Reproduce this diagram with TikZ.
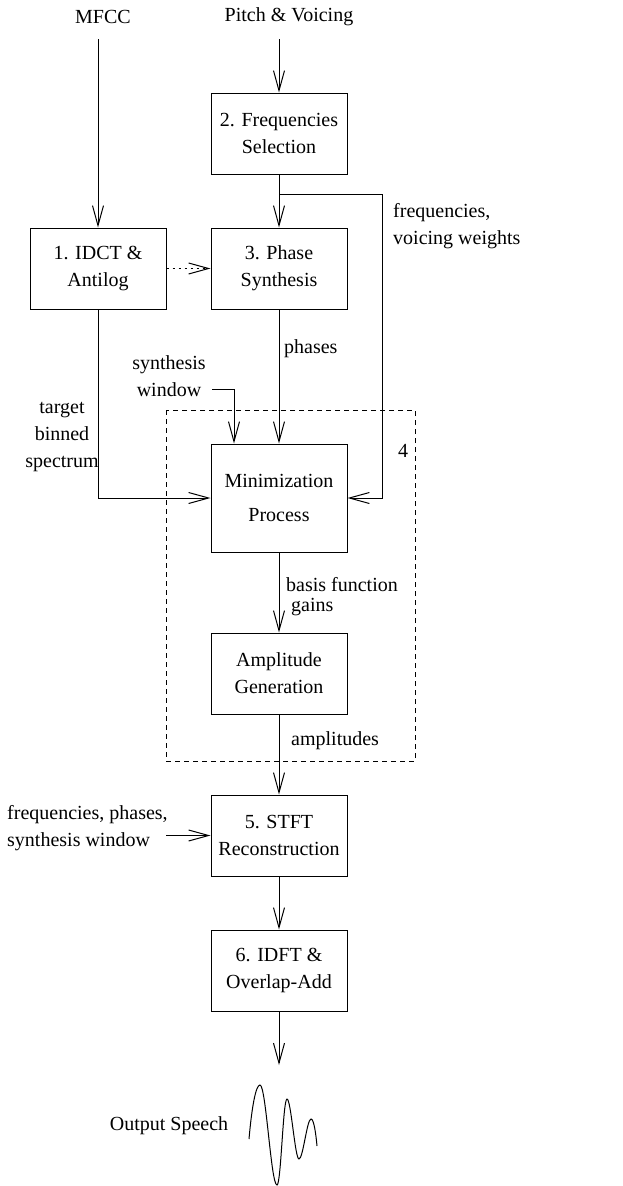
\documentclass[tikz,border=0pt]{standalone}
\usepackage{fontspec}
\setmainfont{Liberation Serif}
\usetikzlibrary{arrows.meta}
\begin{document}
\begin{tikzpicture}[x=1pt,y=-1pt,
  font=\fontsize{20}{27}\selectfont,
  box/.style={draw,line width=1pt,minimum width=136pt,minimum height=81pt,inner sep=0pt,align=center},
  arr/.style={line width=1pt,-{Straight Barb[length=20pt,width=11pt]}},
  lbl/.style={inner sep=0pt},
  dotarrow/.style={arr,dash pattern=on 2pt off 4pt},
  group/.style={line width=0.8pt,dash pattern=on 5pt off 4pt},
  wave/.style={line width=1pt}
]
\useasboundingbox (0,0) rectangle (623,1186);

% boxes
\node[box] (b1) at (98,268.5) {1. IDCT \&\\Antilog};
\node[box] (b2) at (279,133.5) {2. Frequencies\\Selection};
\node[box] (b3) at (279,268.5) {3. Phase\\Synthesis};
\node[box,minimum height=108pt] (b4) at (279,498) {Minimization\\[7pt]Process};
\node[box] (b5) at (279,673.5) {Amplitude\\Generation};
\node[box] (b6) at (279,835.5) {5. STFT\\Reconstruction};
\node[box] (b7) at (279,970.5) {6. IDFT \&\\Overlap-Add};

% inputs
\node[lbl] (mfcc) at (103,17) {MFCC};
\node[lbl] (pv) at (289,17) {Pitch \& Voicing};
\coordinate (m0) at (98,39);
\coordinate (p0) at (279,39);
\draw[arr] (m0) -- (b1);
\draw[arr] (p0) -- (b2);

% frequencies branch
\draw[arr] (b2) -- (b3);
\coordinate (br) at (279,194);
\coordinate (fr) at (382,194);
\draw[arr] (br) -- (fr) |- (b4.east);
\node[lbl,anchor=west,align=left] (fvw) at (393,226.5) {frequencies,\\voicing weights};

% dotted
\draw[dotarrow] (b1) -- (b3);

% target spectrum
\draw[arr] (b1) |- (b4.west);
\node[lbl,align=center] (tbs) at (62,437) {target\\binned\\spectrum};

% phases
\draw[arr] (b3) -- (b4);
\node[lbl,anchor=west] (ph) at (284,349) {phases};

% synthesis window
\node[lbl,align=center] (sw) at (169,376) {synthesis\\window};
\coordinate (sw0) at (212,389);
\draw[arr] (sw0) -| ([xshift=-45pt]b4.north);

% group 4
\draw[group] (166,410) rectangle (415,761);
\node[lbl] (g4) at (403,451) {4};

% minimization -> amplitude
\draw[arr] (b4) -- (b5);
\node[lbl,anchor=west,align=left,font=\fontsize{20}{20}\selectfont] (bfg) at (286,597) {basis function\\\hspace*{5pt}gains};

% amplitude -> stft
\draw[arr] (b5) -- (b6);
\node[lbl,anchor=west] (amp) at (291,741) {amplitudes};

% freq/phases/window
\node[lbl,anchor=west,align=left] (fpw) at (7,828.5) {frequencies, phases,\\synthesis window};
\coordinate (fpw0) at (166,835.5);
\draw[arr] (fpw0) -- (b6.west);

% stft -> idft
\draw[arr] (b6) -- (b7);
\coordinate (out) at (279,1065);
\draw[arr] (b7) -- (out);

% output
\node[lbl] (os) at (169,1126) {Output Speech};
\draw[wave] (249,1139) .. controls (252,1105) and (256,1085) .. (260,1085)
  .. controls (266,1085) and (271,1185) .. (277,1185)
  .. controls (281,1185) and (283,1099) .. (287,1099)
  .. controls (291,1099) and (295,1159) .. (299,1159)
  .. controls (303,1159) and (307,1119) .. (311,1119)
  .. controls (314,1119) and (316,1135) .. (317,1146);
\end{tikzpicture}
\end{document}
